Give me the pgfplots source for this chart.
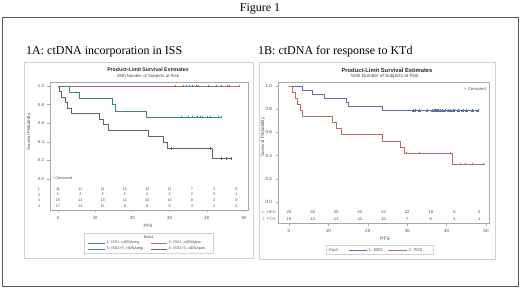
\documentclass[border=0pt]{standalone}
\usepackage{fontspec}
\setmainfont{Liberation Serif}
\setsansfont{Liberation Sans}
\usepackage{pgfplots}
\pgfplotsset{compat=1.18}
\definecolor{cA}{HTML}{5E6EA8}
\definecolor{cB}{HTML}{B86C64}
\definecolor{cC}{HTML}{36887E}
\definecolor{cD}{HTML}{6A625A}
\definecolor{frm}{HTML}{A8A8A8}
\definecolor{txt}{HTML}{4A4A4A}
\pgfplotsset{
  kmbase/.style={
    scale only axis, clip=false,
    axis line style={frm, line width=0.4pt},
    tick style={frm, line width=0.4pt},
    tick align=outside, major tick length=2.5pt,
    xtick={0,10,20,30,40,50}, ytick={0,0.2,0.4,0.6,0.8,1.0},
    xtick pos=bottom, ytick pos=left,
    /pgf/number format/assume math mode=true,
    yticklabel style={/pgf/number format/.cd, fixed, fixed zerofill, precision=1},
    every tick label/.append style={text=txt},
  },
  km/.style={const plot, mark=none, line width=0.6pt},
  cens/.style={only marks, mark=+, mark size=1.3pt, line width=0.4pt},
  risk/.style={draw=none, mark=none, nodes near coords, point meta=explicit symbolic,
    every node near coord/.append style={anchor=center, inner sep=0pt, font=\sffamily\fontsize{3.8}{4}\selectfont, text=txt}},
}
\begin{document}
\begin{tikzpicture}
\path[use as bounding box] (0pt,0pt) rectangle (520pt,289pt);
\node[font=\fontsize{12}{14}\selectfont] at (260pt,280pt) {Figure 1};
\draw[color=black!65, line width=0.8pt] (2pt,272pt) rectangle (518pt,3pt);
\node[anchor=west, font=\fontsize{12}{14}\selectfont, inner sep=0pt] at (26pt,237pt) {1A: ctDNA incorporation in ISS};
\node[anchor=west, font=\fontsize{12}{14}\selectfont, inner sep=0pt] at (258pt,237pt) {1B: ctDNA for response to KTd};
\draw[black!18, line width=0.5pt] (24pt,227pt) rectangle (253pt,31pt);
\draw[black!18, line width=0.5pt] (259pt,227pt) rectangle (495pt,30pt);

% ---------------- Panel 1A ----------------
\node[font=\sffamily\bfseries\fontsize{5.2}{6}\selectfont, text=black!85] at (148pt,219pt) {Product-Limit Survival Estimates};
\node[font=\sffamily\fontsize{4.3}{5}\selectfont, text=txt] at (148pt,213pt) {With Number of Subjects at Risk};
\begin{axis}[kmbase, at={(50pt,79pt)}, anchor=south west, width=198pt, height=128pt,
  xmin=-2.15, xmax=51.08, ymin=-0.333, ymax=1.043,
  every tick label/.append style={font=\sffamily\fontsize{4.3}{5}\selectfont}]
% curve 1: ISS1, ctDNAneg
\addplot[km, cA] coordinates {(0,1) (46,1)};
\addplot[cens, cA] coordinates {(31.5,1) (33.6,1) (34.5,1) (35.3,1) (36.2,1) (37.1,1) (37.7,1) (40.4,1) (42.5,1) (44,1) (46,1)};
% curve 2: ISS1, ctDNApos
\addplot[km, cB] coordinates {(0,1) (48.7,1)};
\addplot[cens, cB] coordinates {(45.5,1) (48.7,1)};
% curve 3: ISS2+3, ctDNAneg
\addplot[km, cC] coordinates {(0,1) (3.1,0.933) (5.7,0.867) (14.7,0.8) (15.3,0.733) (23.8,0.667) (43.8,0.667)};
\addplot[cens, cC] coordinates {(33,0.667) (35,0.667) (36.2,0.667) (37.3,0.667) (38.2,0.667) (38.9,0.667) (40.1,0.667) (41,0.667) (43,0.667) (43.8,0.667)};
% curve 4: ISS2+3, ctDNApos
\addplot[km, cD] coordinates {(0,1) (0.35,0.941) (1.0,0.882) (1.9,0.824) (2.6,0.765) (3.7,0.706) (11.1,0.647) (12.2,0.588) (13.5,0.529) (24.2,0.463) (28.3,0.397) (29.4,0.331) (41.5,0.221) (46.5,0.221)};
\addplot[cens, cD] coordinates {(30.3,0.331) (40.8,0.331) (44,0.221) (45.3,0.221) (46.5,0.221)};
% numbers at risk
\addplot[risk] coordinates {(0,-0.108)[11] (6,-0.108)[11] (12,-0.108)[11] (18,-0.108)[11] (24,-0.108)[11] (30,-0.108)[11] (36,-0.108)[7] (42,-0.108)[3] (48,-0.108)[0]};
\addplot[risk] coordinates {(0,-0.167)[2] (6,-0.167)[2] (12,-0.167)[2] (18,-0.167)[2] (24,-0.167)[2] (30,-0.167)[2] (36,-0.167)[2] (42,-0.167)[2] (48,-0.167)[1]};
\addplot[risk] coordinates {(0,-0.229)[15] (6,-0.229)[13] (12,-0.229)[13] (18,-0.229)[11] (24,-0.229)[10] (30,-0.229)[10] (36,-0.229)[8] (42,-0.229)[2] (48,-0.229)[0]};
\addplot[risk] coordinates {(0,-0.29)[17] (6,-0.29)[12] (12,-0.29)[11] (18,-0.29)[8] (24,-0.29)[8] (30,-0.29)[5] (36,-0.29)[4] (42,-0.29)[2] (48,-0.29)[0]};
\end{axis}
\begin{scope}[font=\sffamily\fontsize{3.8}{4}\selectfont, text=txt]
\node at (39pt,100pt) {1};
\node at (39pt,94.3pt) {2};
\node at (39pt,88.5pt) {3};
\node at (39pt,83pt) {4};
\node[anchor=west, inner sep=0pt] at (52pt,111pt) {+ Censored};
\end{scope}
\node[rotate=90, font=\sffamily\fontsize{4.3}{5}\selectfont, text=txt] at (29pt,157pt) {Survival Probability};
\node[font=\sffamily\fontsize{4.6}{5}\selectfont, text=txt] at (148pt,63pt) {PFS};
\draw[black!18, line width=0.4pt] (84pt,56pt) rectangle (213pt,36pt);
\begin{scope}[font=\sffamily\fontsize{3.8}{4}\selectfont, text=txt]
\node at (148.5pt,52pt) {Risk4};
\draw[cA, line width=0.6pt] (88pt,46pt) -- (105pt,46pt);
\node[anchor=west, inner sep=0.5pt] at (106pt,46pt) {1: ISS1, ctDNAneg};
\draw[cB, line width=0.6pt] (151pt,46pt) -- (167pt,46pt);
\node[anchor=west, inner sep=0.5pt] at (168pt,46pt) {2: ISS1, ctDNApos};
\draw[cC, line width=0.6pt] (88pt,40pt) -- (105pt,40pt);
\node[anchor=west, inner sep=0.5pt] at (106pt,40pt) {3: ISS2+3, ctDNAneg};
\draw[cD, line width=0.6pt] (151pt,40pt) -- (167pt,40pt);
\node[anchor=west, inner sep=0.5pt] at (168pt,40pt) {4: ISS2+3, ctDNApos};
\end{scope}

% ---------------- Panel 1B ----------------
\node[font=\sffamily\bfseries\fontsize{5.8}{6}\selectfont, text=black!85] at (387pt,219pt) {Product-Limit Survival Estimates};
\node[font=\sffamily\fontsize{4.7}{5}\selectfont, text=txt] at (385pt,213pt) {With Number of Subjects at Risk};
\begin{axis}[kmbase, at={(278pt,65.7pt)}, anchor=south west, width=211pt, height=141.3pt,
  xmin=-2.79, xmax=50.76, ymin=-0.184, ymax=1.034,
  every tick label/.append style={font=\sffamily\fontsize{4.6}{5}\selectfont}]
% NEG
\addplot[km, cA] coordinates {(0,1) (3.5,0.964) (5.8,0.929) (9,0.893) (14.6,0.857) (15,0.821) (23.8,0.786) (47.9,0.786)};
\addplot[cens, cA] coordinates {(31.6,0.786) (32,0.786) (33.1,0.786) (35,0.786) (36.4,0.786) (36.8,0.786) (37.1,0.786) (37.3,0.786) (37.6,0.786) (37.9,0.786) (38.3,0.786) (39,0.786) (39.6,0.786) (40.4,0.786) (41,0.786) (41.7,0.786) (41.9,0.786) (43,0.786) (44.1,0.786) (45,0.786) (46.5,0.786) (47.9,0.786)};
% POS
\addplot[km, cB] coordinates {(0,1) (0.9,0.947) (1.5,0.895) (2.2,0.842) (2.8,0.789) (3.5,0.737) (11.1,0.684) (12.1,0.632) (13.4,0.579) (23.6,0.526) (28.3,0.474) (29.3,0.421) (41.5,0.326) (49.3,0.326)};
\addplot[cens, cB] coordinates {(29.8,0.421) (33,0.421) (40.8,0.421) (43.4,0.326) (44.7,0.326) (46.6,0.326) (49.3,0.326)};
% numbers at risk
\addplot[risk, every node near coord/.append style={font=\sffamily\fontsize{4.1}{5}\selectfont}] coordinates {(0,-0.086)[28] (6,-0.086)[26] (12,-0.086)[25] (18,-0.086)[23] (24,-0.086)[22] (30,-0.086)[22] (36,-0.086)[18] (42,-0.086)[5] (48.3,-0.086)[0]};
\addplot[risk, every node near coord/.append style={font=\sffamily\fontsize{4.1}{5}\selectfont}] coordinates {(0,-0.147)[19] (6,-0.147)[14] (12,-0.147)[13] (18,-0.147)[11] (24,-0.147)[10] (30,-0.147)[7] (36,-0.147)[6] (42,-0.147)[4] (48.3,-0.147)[1]};
\end{axis}
\begin{scope}[font=\sffamily\fontsize{4.1}{5}\selectfont]
\node[anchor=east, inner sep=0pt, text=cA] at (276pt,77pt) {1: NEG};
\node[anchor=east, inner sep=0pt, text=cB] at (276pt,70pt) {2: POS};
\node[anchor=east, inner sep=0pt, text=txt] at (486pt,200pt) {+ Censored};
\end{scope}
\node[rotate=90, font=\sffamily\fontsize{4.6}{5}\selectfont, text=txt] at (263pt,152pt) {Survival Probability};
\node[font=\sffamily\fontsize{4.9}{5}\selectfont, text=txt] at (385pt,50pt) {PFS};
\draw[black!18, line width=0.4pt] (326pt,43.5pt) rectangle (433pt,34.5pt);
\begin{scope}[font=\sffamily\fontsize{4.1}{5}\selectfont, text=txt]
\node[anchor=west, inner sep=0.5pt] at (328pt,39pt) {Grp2};
\draw[cA, line width=0.6pt] (349pt,39pt) -- (367pt,39pt);
\node[anchor=west, inner sep=0.5pt] at (368pt,39pt) {1: NEG};
\draw[cB, line width=0.6pt] (388pt,39pt) -- (407pt,39pt);
\node[anchor=west, inner sep=0.5pt] at (408pt,39pt) {2: POS};
\end{scope}
\end{tikzpicture}
\end{document}
